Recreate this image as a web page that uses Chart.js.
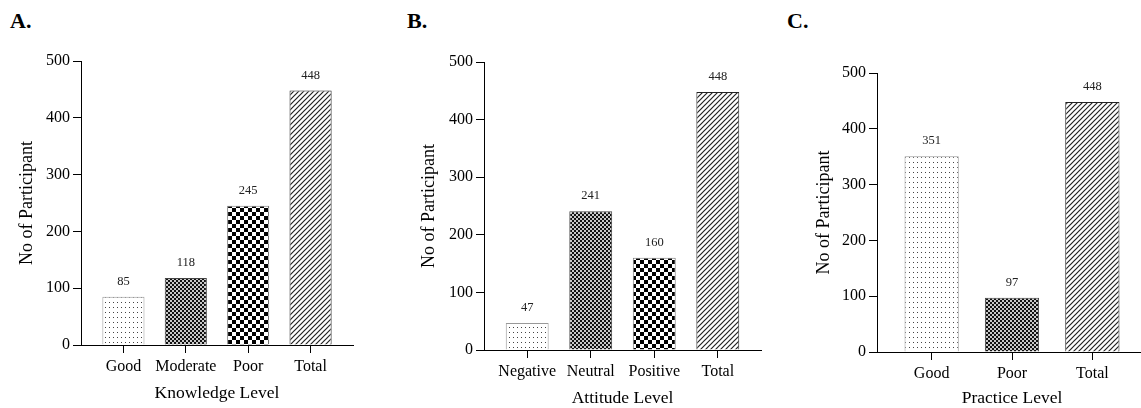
<!DOCTYPE html>
<html>
<head>
<meta charset="utf-8">
<script src="https://cdn.jsdelivr.net/npm/chart.js@4"></script>
<style>
    body { margin: 0; background: #fff; overflow: hidden; width: 1141px; height: 408px; position: relative; }
    canvas { position: absolute; top: 0; }
    .tag { position: absolute; top: 10px; font: bold 22px/22px "Liberation Serif", serif; color: #000; }
</style>
</head>
<body>
<div class="tag" style="left:10px">A.</div>
<div class="tag" style="left:407px">B.</div>
<div class="tag" style="left:787px">C.</div>
<canvas id="chartA" style="left:0px" width="380" height="420"></canvas>
<canvas id="chartB" style="left:380px" width="382" height="420"></canvas>
<canvas id="chartC" style="left:760px" width="390" height="420"></canvas>
<script>
const knowledgeLabels = ["Good", "Moderate", "Poor", "Total"];
const knowledgeCounts = [85, 118, 245, 448];

const attitudeLabels = ["Negative", "Neutral", "Positive", "Total"];
const attitudeCounts = [47, 241, 160, 448];

const practiceLabels = ["Good", "Poor", "Total"];
const practiceCounts = [351, 97, 448];

const yTicks = [0, 100, 200, 300, 400, 500];

// small tiles used as bar fills
function makePattern(w, h, draw) {
    const c = document.createElement('canvas');
    c.width = w; c.height = h;
    const g = c.getContext('2d');
    g.fillStyle = '#fff';
    g.fillRect(0, 0, w, h);
    draw(g);
    return g.createPattern(c, 'repeat');
}

const dots = makePattern(4, 5, g => { g.fillStyle = '#444'; g.fillRect(1, 2, 1, 1); });
const fineCheck = makePattern(4, 4, g => {
    g.fillStyle = '#c8c8c8'; g.fillRect(0, 0, 4, 4);
    g.fillStyle = '#111'; g.fillRect(0, 0, 2, 2); g.fillRect(2, 2, 2, 2);
});
const bigCheck = makePattern(8, 8, g => {
    g.fillStyle = '#000'; g.fillRect(0, 0, 4, 4); g.fillRect(4, 4, 4, 4);
});
const hatch = makePattern(5, 5, g => {
    g.strokeStyle = '#222'; g.lineWidth = 1.2;
    g.beginPath();
    g.moveTo(-1, 1); g.lineTo(1, -1);
    g.moveTo(0, 5); g.lineTo(5, 0);
    g.moveTo(4, 6); g.lineTo(6, 4);
    g.stroke();
});

const serif = '"Liberation Serif", "Times New Roman", serif';

const valueLabels = {
    id: 'valueLabels',
    afterDatasetsDraw(chart) {
        const ctx = chart.ctx;
        const ds = chart.data.datasets[0];
        ctx.save();
        ctx.font = '12.5px ' + serif;
        ctx.fillStyle = '#222';
        ctx.textAlign = 'center';
        ctx.textBaseline = 'middle';
        chart.getDatasetMeta(0).data.forEach((bar, i) => {
            ctx.fillText(ds.data[i].y, bar.x, bar.y - 15);
        });
        ctx.restore();
    }
};

function drawPanel(id, labels, counts, fills, borders, xTitle, g) {
    new Chart(document.getElementById(id), {
        type: 'bar',
        data: {
            datasets: [{
                data: counts.map((v, i) => ({ x: i, y: v })),
                backgroundColor: fills,
                borderColor: borders,
                borderWidth: 1,
                categoryPercentage: 1,
                barPercentage: 0.675
            }]
        },
        options: {
            responsive: false,
            animation: false,
            layout: { padding: { left: 0, top: g.top, right: g.right, bottom: 420 - g.bottom - 60 } },
            plugins: { legend: { display: false }, tooltip: { enabled: false } },
            scales: {
                x: {
                    type: 'linear',
                    offset: false,
                    min: -0.68,
                    max: labels.length - 1 + 0.68,
                    afterBuildTicks: s => { s.ticks = labels.map((l, i) => ({ value: i })); },
                    afterFit: s => { s.height = 60; },
                    grid: { offset: false, drawOnChartArea: false, tickLength: 8, color: '#000' },
                    border: { color: '#000', width: 1 },
                    ticks: {
                        color: '#000', padding: 4, autoSkip: false, maxRotation: 0,
                        font: { family: serif, size: 16 },
                        callback: v => labels[v]
                    },
                    title: {
                        display: true, text: xTitle, color: '#000',
                        font: { family: serif, size: 17.5 },
                        padding: { top: 0, bottom: g.xb }
                    }
                },
                y: {
                    min: 0, max: 500,
                    afterBuildTicks: s => { s.ticks = yTicks.map(v => ({ value: v })); },
                    afterFit: s => { s.width = g.yw; },
                    grid: { drawOnChartArea: false, tickLength: 8, color: '#000' },
                    border: { color: '#000', width: 1 },
                    ticks: { color: '#000', padding: 3, font: { family: serif, size: 16 } },
                    title: {
                        display: true, text: 'No of Participant', color: '#000',
                        font: { family: serif, size: 18 },
                        padding: { top: g.yt, bottom: 0 }
                    }
                }
            }
        },
        plugins: [valueLabels]
    });
}

drawPanel('chartA', knowledgeLabels, knowledgeCounts,
    [dots, fineCheck, bigCheck, hatch], ['#999', '#444', '#777', '#222'],
    'Knowledge Level', { yw: 81, top: 61, bottom: 345, right: 27, yt: 16.2, xb: 1.5 });

drawPanel('chartB', attitudeLabels, attitudeCounts,
    [dots, fineCheck, bigCheck, hatch], ['#999', '#444', '#777', '#222'],
    'Attitude Level', { yw: 104, top: 62, bottom: 350, right: 1, yt: 38.2, xb: 1.5 });

drawPanel('chartC', practiceLabels, practiceCounts,
    [dots, fineCheck, hatch], ['#999', '#444', '#222'],
    'Practice Level', { yw: 117, top: 73, bottom: 352, right: 3, yt: 53.2, xb: 3.5 });
</script>
</body>
</html>
